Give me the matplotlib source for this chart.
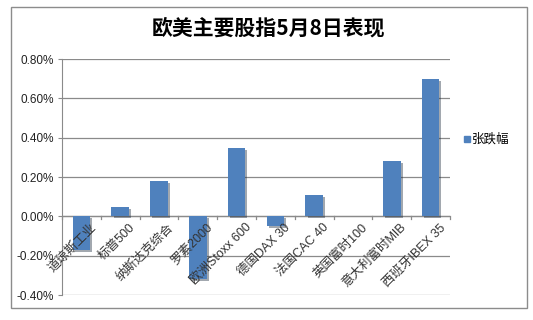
import numpy as np
import matplotlib
matplotlib.use("Agg")
import matplotlib.pyplot as plt
import matplotlib.patheffects as pe
from matplotlib.patches import Rectangle
from matplotlib.ticker import FuncFormatter, MultipleLocator

plt.rcParams['font.family'] = ['Liberation Sans', 'Noto Sans CJK SC', 'DejaVu Sans']

# Datos (% de variacion)
etiquetas = ["道琼斯工业", "标普500", "纳斯达克综合", "罗素2000", "欧洲Stoxx 600",
             "德国DAX 30", "法国CAC 40", "英国富时100", "意大利富时MIB", "西班牙IBEX 35"]
variacion = [-0.17, 0.05, 0.18, -0.32, 0.35, -0.05, 0.11, 0.0, 0.28, 0.70]
serie = "张跌幅"
titulo = "欧美主要股指5月8日表现"

W, H = 533, 320
fig = plt.figure(figsize=(W / 100, H / 100), dpi=100)
fig.patch.set_facecolor("white")

# marco exterior gris
fig.patches.append(Rectangle((11 / W, 1 - 308 / H), (527 - 11) / W, (308 - 7) / H,
                             transform=fig.transFigure, fill=False,
                             edgecolor="#8c8c8c", lw=1.0))

ax = fig.add_axes([62 / W, 1 - 295 / H, (450 - 62) / W, (295 - 59) / H])
x = np.arange(len(etiquetas))
barras = ax.bar(x, variacion, width=0.45, color="#4f81bd", zorder=3)
for b in barras:
    b.set_path_effects([pe.SimplePatchShadow(offset=(1.5, -1.5), alpha=0.4),
                        pe.Normal()])

ax.set_xlim(-0.5, len(etiquetas) - 0.5)
ax.set_ylim(-0.4, 0.8)
ax.yaxis.set_major_locator(MultipleLocator(0.2))
ax.yaxis.set_major_formatter(FuncFormatter(lambda v, p: f"{v:.2f}%"))
ax.grid(axis="y", color="#8a8a8a", lw=0.9, zorder=0)
ax.set_axisbelow(True)
for s in ["top", "right", "bottom"]:
    ax.spines[s].set_visible(False)
ax.spines["left"].set_color("#8a8a8a")
ax.tick_params(axis="y", length=3, color="#8a8a8a", labelsize=8.5, pad=3,
               labelcolor="#222222")
ax.set_xticks([])

# eje x en cero con marcas entre categorias
ax.axhline(0, color="#8a8a8a", lw=0.9, zorder=2)
for t in np.arange(-0.5, len(etiquetas), 1.0):
    ax.plot([t, t], [0, -0.012], color="#8a8a8a", lw=0.9, clip_on=False, zorder=2)

for xi, lab in zip(x, etiquetas):
    ax.text(xi + 0.22, -0.025, lab, rotation=45, rotation_mode="anchor",
            ha="right", va="top", fontsize=9, color="#333333", zorder=4)

fig.text(268 / W, 1 - 28 / H, titulo, ha="center", va="center",
         fontsize=15, fontweight="bold", family=["Noto Sans CJK SC"])

fig.patches.append(Rectangle((464 / W, 1 - 142 / H), 6 / W, 6 / H,
                             transform=fig.transFigure, color="#4f81bd"))
fig.text(472 / W, 1 - 139 / H, serie, ha="left", va="center", fontsize=9)

fig.savefig("out.png", dpi=100)
